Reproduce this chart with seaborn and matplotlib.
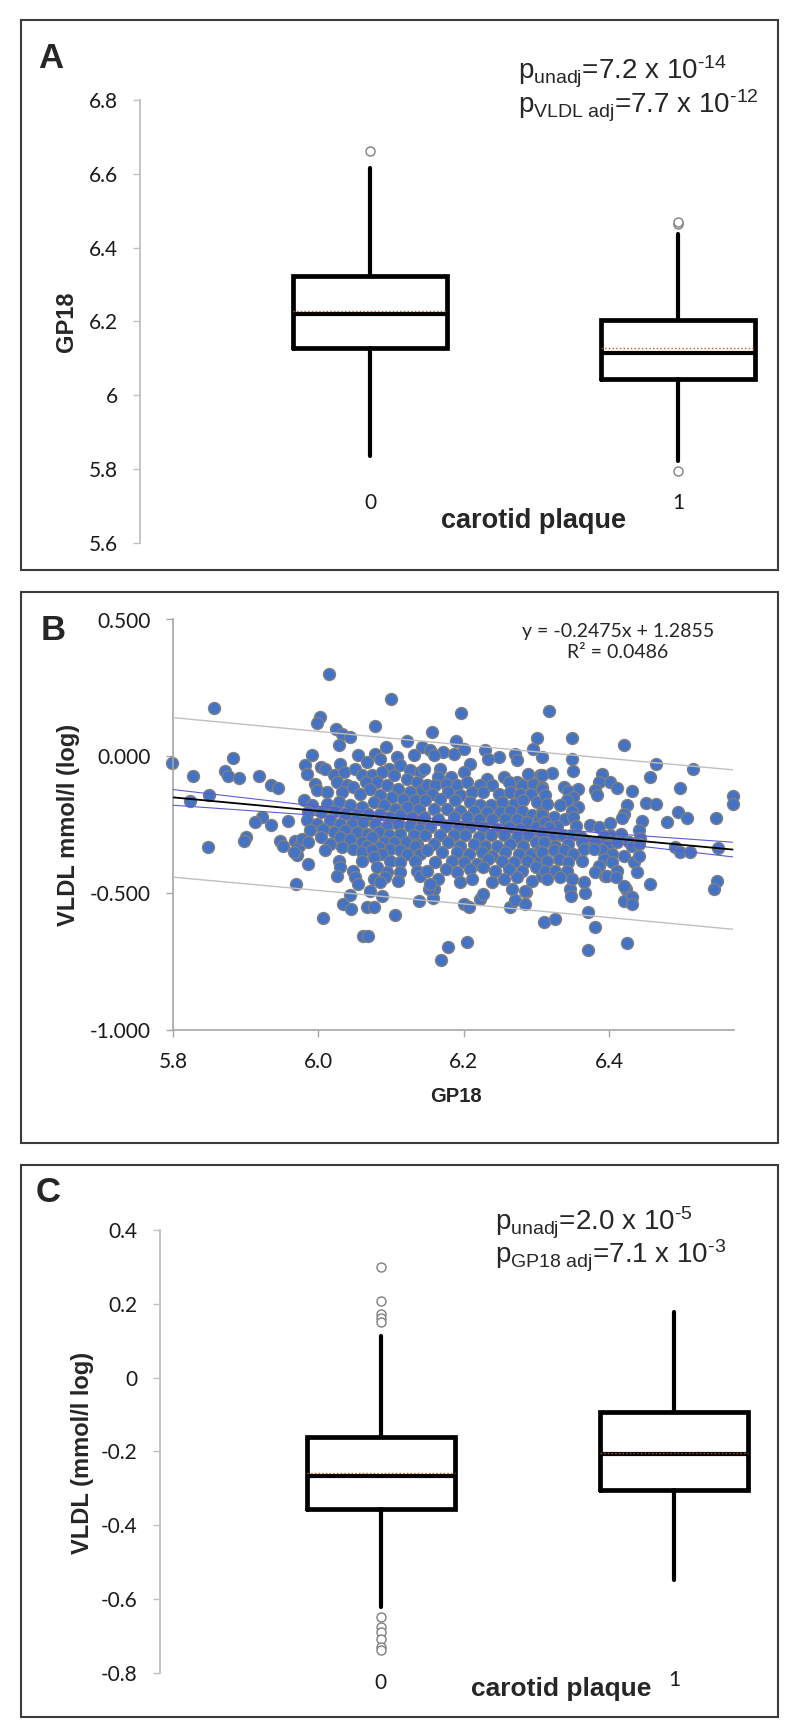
import matplotlib

matplotlib.use("Agg")
import matplotlib.pyplot as plt
import numpy as np
import seaborn as sns
from matplotlib.patches import Rectangle

sns.set_theme(style="white")
plt.rcParams["font.family"] = ["Liberation Sans", "DejaVu Sans"]
plt.rcParams["mathtext.fontset"] = "custom"
plt.rcParams["mathtext.rm"] = "Liberation Sans"
plt.rcParams["mathtext.it"] = "Liberation Sans"
plt.rcParams["mathtext.default"] = "regular"

W, H = 800, 1735

# ---------------- data ----------------
plaque_groups = ["0", "1"]

# panel A: GP18 by carotid plaque
gp18_q1 = [6.128, 6.045]
gp18_med = [6.220, 6.116]
gp18_q3 = [6.323, 6.204]
gp18_lo = [5.835, 5.822]
gp18_hi = [6.616, 6.437]
gp18_mean = [6.228, 6.128]
gp18_fliers = [[6.662], [6.463, 6.470, 5.795]]
gp18_ticks = [5.6, 5.8, 6.0, 6.2, 6.4, 6.6, 6.8]
gp18_ticklabels = ["5.6", "5.8", "6", "6.2", "6.4", "6.6", "6.8"]
p_text_a = [r"p$_{unadj}$=7.2 x 10$^{\text{-}14}$", r"p$_{VLDL\ adj}$=7.7 x 10$^{\text{-}12}$"]

# panel C: VLDL by carotid plaque
vldl_q1 = [-0.355, -0.305]
vldl_med = [-0.267, -0.208]
vldl_q3 = [-0.162, -0.094]
vldl_lo = [-0.622, -0.549]
vldl_hi = [0.113, 0.179]
vldl_mean = [-0.259, -0.205]
vldl_fliers = [[0.301, 0.208, 0.172, 0.162, 0.151,
                -0.650, -0.677, -0.689, -0.709, -0.731, -0.738], []]
vldl_ticks = [-0.8, -0.6, -0.4, -0.2, 0.0, 0.2, 0.4]
vldl_ticklabels = ["-0.8", "-0.6", "-0.4", "-0.2", "0", "0.2", "0.4"]
p_text_c = [r"p$_{unadj}$=2.0 x 10$^{\text{-}5}$", r"p$_{GP18\ adj}$=7.1 x 10$^{\text{-}3}$"]

# panel B: VLDL (log) vs GP18
pts_left = [
    (5.799, -0.023), (5.856, 0.175), (5.828, -0.073), (5.882, -0.005), (5.872, -0.054),
    (5.875, -0.073), (5.891, -0.078), (5.918, -0.071), (5.935, -0.103), (5.944, -0.115),
    (5.849, -0.143), (5.823, -0.165), (5.848, -0.332), (5.922, -0.222), (5.913, -0.241),
    (5.935, -0.250), (5.958, -0.237), (5.901, -0.293), (5.898, -0.311), (5.947, -0.310),
    (5.951, -0.326), (5.968, -0.308), (5.973, -0.326), (5.970, -0.359), (5.966, -0.350),
    (5.969, -0.466), (6.015, 0.300), (6.002, 0.144), (5.998, 0.122), (6.024, 0.101),
    (6.032, 0.083), (6.044, -0.507), (6.034, -0.540), (6.045, -0.559), (6.006, -0.591),
    (6.061, -0.658),
]
pts_outer = [
    (6.100, 0.208), (6.196, 0.159), (6.318, 0.166), (6.078, 0.110), (6.156, 0.089),
    (6.105, -0.580), (6.138, -0.527), (6.158, -0.519), (6.200, -0.540), (6.207, -0.552),
    (6.223, -0.521), (6.227, -0.503), (6.264, -0.552), (6.270, -0.525), (6.285, -0.540),
    (6.286, -0.495), (6.311, -0.607), (6.325, -0.595), (6.179, -0.696), (6.205, -0.680),
    (6.068, -0.656), (6.067, -0.552), (6.076, -0.549), (6.087, -0.509), (6.071, -0.491),
    (6.159, -0.485), (6.152, -0.485), (6.266, -0.485), (6.285, -0.491), (6.169, -0.743),
]
pts_right = [
    (6.515, -0.048), (6.498, -0.117), (6.570, -0.144), (6.570, -0.173), (6.495, -0.204),
    (6.508, -0.226), (6.547, -0.226), (6.480, -0.241), (6.491, -0.332), (6.498, -0.350),
    (6.511, -0.350), (6.550, -0.335), (6.549, -0.454), (6.545, -0.485), (6.347, -0.485),
    (6.348, -0.509), (6.367, -0.501), (6.423, -0.485), (6.420, -0.528), (6.432, -0.513),
    (6.432, -0.540), (6.371, -0.568), (6.381, -0.625), (6.425, -0.683), (6.371, -0.708),
]
pts_core_1 = [
    (6.029, 0.043), (6.043, 0.071), (6.122, 0.055), (6.143, 0.034), (6.055, 0.006),
    (6.078, 0.010), (6.093, 0.034), (6.108, -0.002), (6.131, 0.004), (5.991, 0.006),
    (5.982, -0.031), (6.003, -0.039), (6.030, -0.027), (6.067, -0.021), (6.085, -0.008),
    (6.097, -0.045), (6.113, -0.033), (6.126, -0.051), (6.140, -0.057), (5.984, -0.063),
    (6.009, -0.045), (6.021, -0.067), (6.035, -0.057), (6.051, -0.045), (6.060, -0.070),
    (6.074, -0.070), (6.087, -0.057), (6.104, -0.070), (6.122, -0.082), (6.136, -0.094),
    (5.996, -0.100), (6.025, -0.094), (6.039, -0.106), (6.048, -0.112), (6.065, -0.094),
    (6.081, -0.094), (6.094, -0.106), (6.110, -0.118), (6.126, -0.131), (6.143, -0.124),
    (5.998, -0.124), (6.012, -0.131), (6.032, -0.131), (6.058, -0.137), (6.071, -0.118),
    (6.085, -0.143), (6.101, -0.149), (6.117, -0.155), (6.133, -0.161), (5.980, -0.161),
    (5.991, -0.179), (6.012, -0.173), (6.028, -0.167), (6.044, -0.179), (6.060, -0.186),
    (6.076, -0.167), (6.090, -0.179), (6.106, -0.192), (6.122, -0.186), (6.138, -0.192),
    (5.986, -0.204), (6.003, -0.204), (6.021, -0.198), (6.037, -0.210), (6.053, -0.216),
    (6.069, -0.210), (6.085, -0.210), (6.099, -0.222), (6.113, -0.216), (6.129, -0.222),
    (6.143, -0.228), (5.984, -0.234), (5.998, -0.247), (6.016, -0.234), (6.030, -0.247),
    (6.046, -0.247), (6.062, -0.240), (6.078, -0.247), (6.094, -0.253), (6.110, -0.247),
    (6.126, -0.253), (6.140, -0.265), (5.989, -0.271), (6.007, -0.265), (6.021, -0.277),
    (6.037, -0.271), (6.053, -0.277), (6.067, -0.283), (6.083, -0.277), (6.097, -0.289),
    (6.113, -0.283), (6.131, -0.289), (5.977, -0.302), (6.003, -0.295), (6.030, -0.295),
    (6.044, -0.302), (6.060, -0.314), (6.074, -0.295), (6.090, -0.314), (6.104, -0.314),
    (6.120, -0.314), (6.136, -0.320), (5.986, -0.314), (6.016, -0.320), (6.032, -0.332),
    (6.048, -0.338), (6.067, -0.326), (6.083, -0.332), (6.099, -0.338), (6.113, -0.344),
    (6.133, -0.326), (6.009, -0.344), (6.060, -0.350), (6.074, -0.344), (6.087, -0.356),
    (6.122, -0.356), (6.140, -0.356), (5.986, -0.393), (6.028, -0.381), (6.060, -0.381),
    (6.076, -0.369), (6.099, -0.381), (6.113, -0.387), (6.133, -0.381), (6.030, -0.405),
    (6.048, -0.418), (6.081, -0.405), (6.094, -0.424), (6.113, -0.424), (6.136, -0.418),
    (6.025, -0.436), (6.051, -0.442), (6.076, -0.448), (6.092, -0.442), (6.110, -0.454),
    (6.140, -0.436), (6.055, -0.466), (6.085, -0.460),
]
pts_core_2 = [
    (6.190, 0.055), (6.301, 0.067), (6.154, 0.022), (6.172, 0.016), (6.186, 0.010),
    (6.200, 0.028), (6.230, 0.022), (6.248, -0.002), (6.271, 0.010), (6.296, 0.028),
    (6.159, 0.004), (6.234, -0.008), (6.273, -0.015), (6.308, -0.002), (6.168, -0.045),
    (6.209, -0.027), (6.145, -0.045), (6.200, -0.057), (6.165, -0.076), (6.182, -0.076),
    (6.232, -0.082), (6.255, -0.076), (6.273, -0.094), (6.289, -0.063), (6.305, -0.070),
    (6.149, -0.106), (6.161, -0.106), (6.175, -0.100), (6.191, -0.106), (6.204, -0.094),
    (6.223, -0.106), (6.239, -0.106), (6.262, -0.094), (6.280, -0.106), (6.296, -0.100),
    (6.308, -0.112), (6.156, -0.137), (6.179, -0.131), (6.195, -0.143), (6.211, -0.131),
    (6.227, -0.131), (6.248, -0.137), (6.264, -0.131), (6.278, -0.137), (6.292, -0.137),
    (6.147, -0.161), (6.168, -0.155), (6.188, -0.161), (6.209, -0.167), (6.223, -0.179),
    (6.237, -0.179), (6.253, -0.167), (6.269, -0.173), (6.282, -0.161), (6.301, -0.167),
    (6.159, -0.192), (6.177, -0.192), (6.195, -0.198), (6.214, -0.198), (6.232, -0.204),
    (6.250, -0.204), (6.264, -0.198), (6.280, -0.198), (6.294, -0.216), (6.308, -0.204),
    (6.145, -0.222), (6.165, -0.228), (6.186, -0.222), (6.204, -0.222), (6.221, -0.228),
    (6.239, -0.228), (6.257, -0.228), (6.273, -0.228), (6.287, -0.240), (6.303, -0.228),
    (6.154, -0.259), (6.175, -0.253), (6.193, -0.259), (6.209, -0.259), (6.227, -0.259),
    (6.246, -0.265), (6.262, -0.259), (6.278, -0.265), (6.299, -0.259), (6.310, -0.271),
    (6.147, -0.289), (6.168, -0.289), (6.186, -0.289), (6.202, -0.289), (6.221, -0.295),
    (6.237, -0.289), (6.255, -0.289), (6.273, -0.295), (6.289, -0.289), (6.305, -0.302),
    (6.159, -0.320), (6.179, -0.314), (6.195, -0.326), (6.214, -0.320), (6.230, -0.326),
    (6.246, -0.326), (6.264, -0.320), (6.282, -0.326), (6.299, -0.314), (6.149, -0.344),
    (6.170, -0.350), (6.191, -0.350), (6.207, -0.356), (6.225, -0.350), (6.239, -0.363),
    (6.257, -0.350), (6.276, -0.356), (6.292, -0.356), (6.305, -0.344), (6.161, -0.387),
    (6.184, -0.381), (6.200, -0.387), (6.218, -0.393), (6.234, -0.375), (6.253, -0.381),
    (6.269, -0.387), (6.287, -0.381), (6.305, -0.381), (6.149, -0.418), (6.175, -0.411),
    (6.191, -0.424), (6.209, -0.411), (6.227, -0.405), (6.243, -0.418), (6.262, -0.411),
    (6.280, -0.418), (6.299, -0.405), (6.165, -0.448), (6.195, -0.460), (6.211, -0.448),
    (6.239, -0.460), (6.255, -0.448), (6.273, -0.442), (6.294, -0.454), (6.308, -0.436),
    (6.154, -0.466),
]
pts_core_3 = [
    (6.349, 0.067), (6.421, 0.043), (6.349, -0.008), (6.465, -0.027), (6.351, -0.055),
    (6.322, -0.060), (6.308, -0.070), (6.456, -0.076), (6.390, -0.063), (6.386, -0.094),
    (6.402, -0.094), (6.411, -0.116), (6.381, -0.124), (6.384, -0.143), (6.432, -0.128),
    (6.338, -0.112), (6.358, -0.121), (6.344, -0.128), (6.308, -0.118), (6.312, -0.143),
    (6.351, -0.149), (6.342, -0.161), (6.333, -0.179), (6.315, -0.173), (6.358, -0.186),
    (6.349, -0.198), (6.425, -0.179), (6.451, -0.170), (6.464, -0.176), (6.420, -0.210),
    (6.418, -0.226), (6.446, -0.238), (6.308, -0.216), (6.324, -0.222), (6.312, -0.240),
    (6.340, -0.228), (6.351, -0.222), (6.328, -0.253), (6.317, -0.259), (6.354, -0.253),
    (6.374, -0.250), (6.386, -0.259), (6.402, -0.243), (6.441, -0.271), (6.443, -0.299),
    (6.416, -0.283), (6.427, -0.314), (6.402, -0.287), (6.393, -0.292), (6.308, -0.277),
    (6.324, -0.289), (6.335, -0.289), (6.349, -0.289), (6.361, -0.295), (6.370, -0.308),
    (6.381, -0.314), (6.310, -0.314), (6.326, -0.326), (6.344, -0.320), (6.363, -0.314),
    (6.397, -0.326), (6.411, -0.314), (6.432, -0.326), (6.441, -0.320), (6.390, -0.344),
    (6.404, -0.356), (6.420, -0.363), (6.434, -0.387), (6.441, -0.363), (6.308, -0.350),
    (6.324, -0.344), (6.338, -0.344), (6.351, -0.356), (6.365, -0.338), (6.379, -0.338),
    (6.315, -0.381), (6.331, -0.375), (6.344, -0.387), (6.363, -0.381), (6.393, -0.375),
    (6.404, -0.387), (6.386, -0.399), (6.312, -0.418), (6.326, -0.418), (6.342, -0.418),
    (6.381, -0.424), (6.395, -0.436), (6.411, -0.418), (6.439, -0.424), (6.315, -0.448),
    (6.333, -0.442), (6.349, -0.448), (6.365, -0.460), (6.397, -0.436), (6.409, -0.442),
    (6.420, -0.473), (6.457, -0.466),
]
trend_slope = -0.2475
trend_intercept = 1.2855
trend_text = ["y = -0.2475x + 1.2855", "R\u00b2 = 0.0486"]
# residual SE and sample size, estimated from the band widths in the picture
resid_se = 0.148
n_obs = 800
b_xticks = [5.8, 6.0, 6.2, 6.4]
b_xticklabels = ["5.8", "6.0", "6.2", "6.4"]
b_yticks = [-1.0, -0.5, 0.0, 0.5]
b_yticklabels = ["-1.000", "-0.500", "0.000", "0.500"]

all_pts = np.array(pts_left + pts_outer + pts_right + pts_core_1 + pts_core_2 + pts_core_3)
gp18 = all_pts[:, 0]
vldl = all_pts[:, 1]

# ---------------- helpers ----------------
fig = plt.figure(figsize=(W / 100, H / 100), dpi=100)
fig.patch.set_facecolor("white")


def fx(px):
    return px / W


def fy(py):
    return 1 - py / H


def add_axes(left, top, right, bottom):
    return fig.add_axes([fx(left), fy(bottom), (right - left) / W, (bottom - top) / H])


def frame(top, bottom, left=21, right=778):
    fig.add_artist(Rectangle((fx(left), fy(bottom)), (right - left) / W, (bottom - top) / H,
                             transform=fig.transFigure, fill=False,
                             edgecolor="#3c3c3c", linewidth=1.5))


AXIS_GREY = "#BFBFBF"
TICK_FONT = dict(fontfamily="Lato", fontsize=15, color="#1a1a1a")


def draw_box_panel(ax, q1, med, q3, lo, hi, mean, fliers, width):
    stats = [dict(q1=a, med=b, q3=c, whislo=d, whishi=e, mean=f, fliers=g)
             for a, b, c, d, e, f, g in zip(q1, med, q3, lo, hi, mean, fliers)]
    ax.bxp(stats, positions=range(len(stats)), widths=width,
           showmeans=True, meanline=True, showcaps=False,
           boxprops=dict(color="black", linewidth=3.4, solid_joinstyle="miter"),
           whiskerprops=dict(color="black", linewidth=3.0),
           medianprops=dict(color="black", linewidth=3.0),
           meanprops=dict(color="#C55A11", linestyle=":", linewidth=1.0),
           flierprops=dict(marker="o", markerfacecolor="white", markeredgecolor="#7F7F7F",
                           markersize=6.5, markeredgewidth=1.0))
    for side in ["top", "right", "bottom"]:
        ax.spines[side].set_visible(False)
    ax.spines["left"].set_color(AXIS_GREY)
    ax.spines["left"].set_linewidth(1.3)
    ax.set_xticks([])
    ax.tick_params(axis="y", left=True, direction="out", length=5, width=1,
                   color=AXIS_GREY, pad=11)
    ax.set_facecolor("none")


# ---------------- panel A ----------------
frame(20, 570)
axA = add_axes(140, 100, 770, 543)
draw_box_panel(axA, gp18_q1, gp18_med, gp18_q3, gp18_lo, gp18_hi, gp18_mean, gp18_fliers, 0.5)
axA.set_xlim(-0.747, 1.299)
axA.set_ylim(5.6, 6.8)
axA.set_yticks(gp18_ticks)
axA.set_yticklabels(gp18_ticklabels, **TICK_FONT)
for i, name in enumerate(plaque_groups):
    axA.text(i, 0.09, name, transform=axA.get_xaxis_transform(),
             ha="center", va="center", **TICK_FONT)
axA.text(0.53, 0.05, "carotid plaque", transform=axA.get_xaxis_transform(),
         ha="center", va="center", fontsize=19.5, fontweight="bold")
fig.text(fx(66), fy(322), "GP18", rotation=90, ha="center", va="center",
         fontsize=17, fontweight="bold")
fig.text(fx(38), fy(58), "A", ha="left", va="center", fontsize=25, fontweight="bold")
fig.text(fx(518), fy(80), p_text_a[0], ha="left", va="baseline", fontsize=20)
fig.text(fx(518), fy(114), p_text_a[1], ha="left", va="baseline", fontsize=20)

# ---------------- panel B ----------------
frame(592, 1143)
axB = add_axes(173, 619.5, 734, 1030)
sns.scatterplot(x=gp18, y=vldl, ax=axB, s=74, color="#4472C4", edgecolor="#7F7F7F",
                linewidth=1.0, zorder=2, legend=False, clip_on=False)

# linear trend line with 95% confidence / prediction bands
xg = np.linspace(gp18.min(), gp18.max(), 200)
yg = trend_slope * xg + trend_intercept
sxx = n_obs * np.var(gp18)
se_fit = resid_se * np.sqrt(1 / n_obs + (xg - gp18.mean()) ** 2 / sxx)
se_pred = resid_se * np.sqrt(1 + 1 / n_obs + (xg - gp18.mean()) ** 2 / sxx)
for sign in (-1, 1):
    axB.plot(xg, yg + sign * 1.96 * se_pred, color="#BFBFBF", linewidth=1.0, zorder=3)
    axB.plot(xg, yg + sign * 1.96 * se_fit, color="#5B5BD6", linewidth=0.8, zorder=3)
axB.plot(xg, yg, color="black", linewidth=1.3, zorder=4)

axB.set_xlim(5.8, 6.572)
axB.set_ylim(-1.0, 0.5)
axB.set_xticks(b_xticks)
axB.set_xticklabels(b_xticklabels, **TICK_FONT)
axB.set_yticks(b_yticks)
axB.set_yticklabels(b_yticklabels, **TICK_FONT)
for side in ["top", "right"]:
    axB.spines[side].set_visible(False)
for side in ["left", "bottom"]:
    axB.spines[side].set_color("#A6A6A6")
    axB.spines[side].set_linewidth(1.2)
axB.tick_params(axis="both", left=True, bottom=True, direction="out", length=5,
                width=1, color="#A6A6A6", pad=11)
axB.set_xlabel("")
axB.set_ylabel("")
axB.set_facecolor("none")
fig.text(fx(618), fy(631), trend_text[0], ha="center", va="center",
         fontsize=14, fontfamily="Lato")
fig.text(fx(618), fy(653), trend_text[1], ha="center", va="center",
         fontsize=14, fontfamily="Lato")
fig.text(fx(68), fy(825), "VLDL mmol/l (log)", rotation=90, ha="center", va="center",
         fontsize=17, fontweight="bold")
fig.text(fx(456), fy(1096), "GP18", ha="center", va="center",
         fontsize=14.5, fontweight="bold")
fig.text(fx(41), fy(630), "B", ha="left", va="center", fontsize=25, fontweight="bold")

# ---------------- panel C ----------------
frame(1165, 1717)
axC = add_axes(160, 1230, 770, 1672.7)
draw_box_panel(axC, vldl_q1, vldl_med, vldl_q3, vldl_lo, vldl_hi, vldl_mean, vldl_fliers, 0.505)
axC.set_xlim(-0.754, 1.328)
axC.set_ylim(-0.8, 0.4)
axC.set_yticks(vldl_ticks)
axC.set_yticklabels(vldl_ticklabels, **TICK_FONT)
axC.text(0, -0.023, plaque_groups[0], transform=axC.get_xaxis_transform(),
         ha="center", va="center", **TICK_FONT)
axC.text(1, -0.017, plaque_groups[1], transform=axC.get_xaxis_transform(),
         ha="center", va="center", **TICK_FONT)
axC.text(0.615, -0.036, "carotid plaque", transform=axC.get_xaxis_transform(),
         ha="center", va="center", fontsize=19, fontweight="bold")
fig.text(fx(83), fy(1453), "VLDL (mmol/l log)", rotation=90, ha="center", va="center",
         fontsize=17, fontweight="bold")
fig.text(fx(36), fy(1193), "C", ha="left", va="center", fontsize=25, fontweight="bold")
fig.text(fx(495), fy(1230), p_text_c[0], ha="left", va="baseline", fontsize=20)
fig.text(fx(495), fy(1263), p_text_c[1], ha="left", va="baseline", fontsize=20)

fig.savefig("out.png", dpi=100, facecolor="white")
